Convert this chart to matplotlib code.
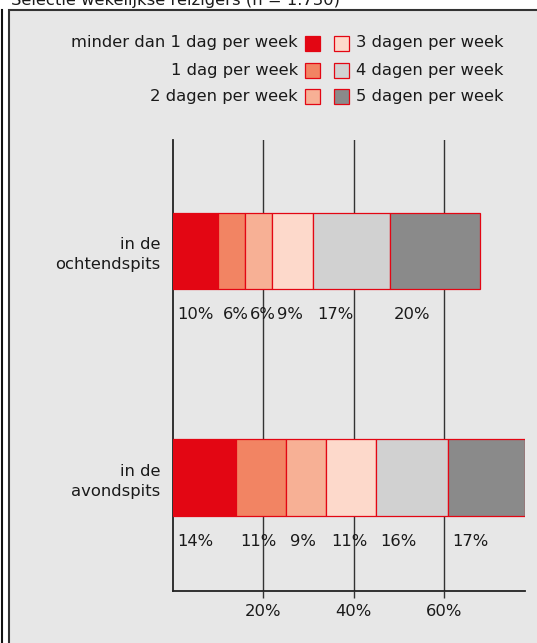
import matplotlib
matplotlib.use('Agg')
import matplotlib.pyplot as plt
from matplotlib.patches import Rectangle
from matplotlib.lines import Line2D
import numpy as np

# data
categories = ['in de\navondspits', 'in de\nochtendspits']
series_names = ['minder dan 1 dag per week', '1 dag per week', '2 dagen per week',
                '3 dagen per week', '4 dagen per week', '5 dagen per week']
avond = [14, 11, 9, 11, 16, 17]
ochtend = [10, 6, 6, 9, 17, 20]
values = np.array([avond, ochtend])
colors = ['#e30613', '#f28463', '#f7b095', '#fdd9cb', '#d1d1d1', '#8a8a8a']
xticks = [20, 40, 60]
xtick_labels = ['20%', '40%', '60%']
title = 'Selectie wekelijkse reizigers (n = 1.730)'

W, H = 537, 643
fig = plt.figure(figsize=(W / 100, H / 100), dpi=100)
fig.patch.set_facecolor('white')
txt_color = '#1a1a1a'
fs = 11.8


def fx(px):
    return px / W


def fy(py):
    return 1 - py / H


# background box + left rule
fig.patches.append(Rectangle((fx(9), -0.01), 1.0, fy(10) + 0.01, transform=fig.transFigure,
                             facecolor='#e7e7e7', edgecolor='#333333', linewidth=1.5,
                             zorder=-5))
fig.lines.append(Line2D([fx(2), fx(2)], [0, fy(10)], transform=fig.transFigure,
                        color='#111111', linewidth=1.5, zorder=-5))
fig.text(fx(11), fy(5), title, fontsize=fs, color=txt_color, va='baseline', ha='left')

# axes
ax = fig.add_axes([fx(173), fy(591), fx(525) - fx(173), (591 - 140) / H])
ax.set_facecolor('none')
ax.set_xlim(0, 78)
ax.set_ylim(-0.5, 1.487)

y = np.arange(len(categories))
left = np.zeros(len(categories))
for i in range(len(series_names)):
    ax.barh(y, values[:, i], left=left, height=0.335, color=colors[i],
            edgecolor='#e30613', linewidth=0.9, zorder=3)
    for j in range(len(categories)):
        ax.annotate(f'{values[j, i]}%', xy=(left[j], y[j] - 0.335 / 2),
                    xytext=(3.2, -18.5), textcoords='offset points',
                    ha='left', va='center', fontsize=fs, color=txt_color)
    left += values[:, i]

for t in xticks:
    ax.axvline(t, color='#333333', linewidth=1.0, zorder=1)

ax.set_xticks(xticks)
ax.set_xticklabels(xtick_labels)
ax.set_yticks(y)
ax.set_yticklabels(categories, ha='right', multialignment='right', linespacing=1.45)
for lbl in ax.get_yticklabels():
    lbl.set_y(lbl.get_position()[1])
ax.tick_params(axis='x', length=5, width=1.0, color='#333333', labelsize=fs,
               labelcolor=txt_color, pad=4)
ax.tick_params(axis='y', length=0, pad=9, labelsize=fs, labelcolor=txt_color)
for s in ['top', 'right']:
    ax.spines[s].set_visible(False)
for s in ['left', 'bottom']:
    ax.spines[s].set_color('#222222')
    ax.spines[s].set_linewidth(1.3)

# legend drawn by hand (two columns, swatches in the middle)
rows_y = [43, 70, 96]
sq = 15
for k, name in enumerate(series_names):
    col, row = divmod(k, 3)
    yc = rows_y[row]
    if col == 0:
        sx = 305
        fig.text(fx(298), fy(yc), name, ha='right', va='center', fontsize=fs,
                 color=txt_color)
    else:
        sx = 334
        fig.text(fx(356), fy(yc), name, ha='left', va='center', fontsize=fs,
                 color=txt_color)
    fig.patches.append(Rectangle((fx(sx), fy(yc + sq / 2)), sq / W, sq / H,
                                 transform=fig.transFigure, facecolor=colors[k],
                                 edgecolor='#e30613', linewidth=0.9, zorder=3))

fig.savefig('out.png', dpi=100)
